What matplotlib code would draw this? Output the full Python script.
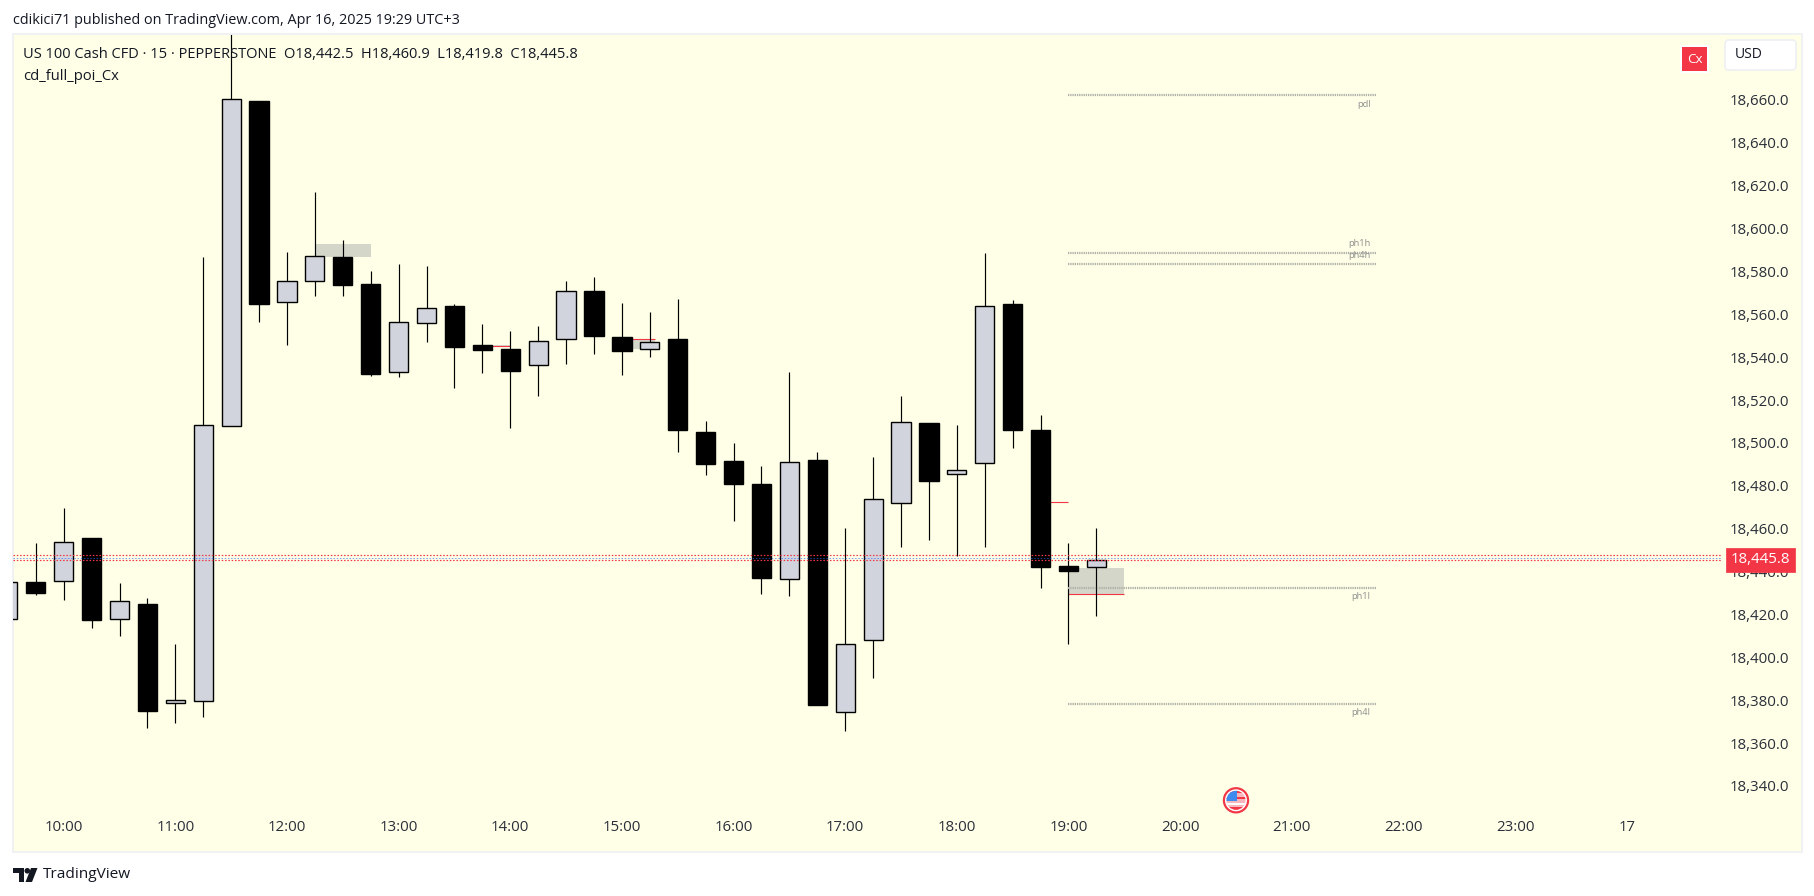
import matplotlib
matplotlib.use("Agg")
import matplotlib.pyplot as plt
from matplotlib.patches import Rectangle, Circle, FancyBboxPatch, Polygon
from matplotlib.transforms import ScaledTranslation

plt.rcParams['font.family'] = ['Open Sans', 'DejaVu Sans']

# 15-minute bars starting at 09:30
start_hour = 9.5
bar_hours = 0.25
opens = [18418.1, 18435.3, 18435.8, 18455.9, 18418.1, 18425.2, 18378.9, 18379.8, 18508.1, 18659.8,
         18566.2, 18575.7, 18587.1, 18574.5, 18533.3, 18556.1, 18564.2, 18545.9, 18544.0, 18536.6,
         18548.7, 18571.2, 18549.8, 18544.0, 18548.8, 18505.5, 18491.9, 18481.2, 18436.7, 18492.4,
         18374.7, 18408.3, 18472.2, 18509.7, 18486.0, 18490.8, 18565.2, 18506.4, 18443.0, 18442.5]
highs = [18435.3, 18453.7, 18470.0, 18455.9, 18435.0, 18428.0, 18406.6, 18587.1, 18700.0, 18659.8,
         18589.4, 18617.4, 18595.0, 18580.6, 18583.8, 18582.9, 18565.2, 18555.8, 18552.6, 18554.9,
         18575.9, 18577.8, 18565.6, 18561.4, 18567.5, 18510.6, 18500.3, 18489.6, 18533.4, 18496.1,
         18460.7, 18493.8, 18522.3, 18509.7, 18508.7, 18588.9, 18567.0, 18513.4, 18453.7, 18460.9]
lows = [18418.1, 18429.6, 18427.3, 18414.2, 18410.5, 18367.6, 18369.9, 18372.7, 18508.1, 18556.9,
        18546.2, 18569.0, 18569.0, 18531.7, 18531.3, 18547.6, 18526.1, 18533.1, 18507.5, 18522.4,
        18537.3, 18542.0, 18532.0, 18540.6, 18496.3, 18485.6, 18464.1, 18430.1, 18429.1, 18378.3,
        18366.2, 18390.9, 18452.0, 18455.1, 18447.8, 18452.0, 18498.2, 18432.9, 18406.7, 18419.8]
closes = [18435.3, 18430.5, 18454.0, 18417.9, 18426.5, 18375.5, 18380.3, 18508.6, 18660.6, 18565.3,
          18575.7, 18587.4, 18574.0, 18532.7, 18556.6, 18563.1, 18545.3, 18543.9, 18534.1, 18547.8,
          18571.1, 18550.4, 18543.4, 18547.3, 18506.5, 18490.7, 18481.4, 18437.5, 18491.3, 18378.3,
          18406.4, 18474.1, 18510.0, 18482.8, 18487.6, 18564.1, 18506.5, 18442.7, 18440.8, 18445.8]

price_ticks = list(range(18340, 18661, 20))
time_ticks = list(range(10, 25))
time_labels = [f"{h}:00" for h in range(10, 24)] + ["17"]

level_names = ["pdl", "ph1h", "ph4h", "ph1l", "ph4l"]
level_prices = [18662.6, 18589.0, 18583.8, 18432.9, 18378.8]
level_label_dy = [-9, 9, 9, -9, -9]
level_start, level_end = 19.0, 21.75

# zones: start hour, end hour, low price, high price
zone_starts = [12.25, 15.0, 13.75, 19.0]
zone_ends = [12.75, 15.3, 14.0, 19.5]
zone_lows = [18587.3, 18544.0, 18545.2, 18430.0]
zone_highs = [18593.4, 18549.0, 18546.0, 18442.2]
# red mitigation marks: start hour, end hour, price
red_starts = [13.75, 15.0, 18.75, 19.0]
red_ends = [14.0, 15.3, 19.0, 19.5]
red_prices = [18545.4, 18549.0, 18472.6, 18430.0]

last_price = 18445.8
dotted_red = [18445.8, 18447.9]
dotted_blue = [18446.8]

BG = "#FEFFE6"
UP = "#D1D4DC"
DOWN = "#000000"
RED = "#F23645"
BOX = "#D4D6C9"
INK = "#2A2E39"
FW, FH = 1814, 896
L, R, T, B = 13.0, 1802.0, 34.5, 851.7

fig = plt.figure(figsize=(FW / 100, FH / 100), dpi=100, facecolor="white")

ax = fig.add_axes([L / FW, 1 - B / FH, (R - L) / FW, (B - T) / FH], facecolor=BG)
ax.set_xlim(9.546, 25.57)
ax.set_ylim(18309.7, 18690.9)
for s in ax.spines.values():
    s.set_color("#F0F1F3")
    s.set_linewidth(1.4)

ax.set_xticks(time_ticks)
ax.set_xticklabels(time_labels)
ax.set_yticks(price_ticks)
ax.set_yticklabels([f"{p:,.1f}" for p in price_ticks])
ax.yaxis.tick_right()
ax.tick_params(axis='x', length=0, pad=-23, labelsize=10.8, labelcolor=INK)
ax.tick_params(axis='y', length=0, pad=-9.5, labelsize=10.8, labelcolor=INK)
nudge = ScaledTranslation(0, -1.2 / 100, fig.dpi_scale_trans)
for lab in ax.get_yticklabels():
    lab.set_horizontalalignment('right')
    lab.set_verticalalignment('center')
    lab.set_transform(lab.get_transform() + nudge)

# zones
for x0, x1, y0, y1 in zip(zone_starts, zone_ends, zone_lows, zone_highs):
    ax.add_patch(Rectangle((x0, y0), x1 - x0, y1 - y0, facecolor=BOX, edgecolor="none", zorder=1))
ax.hlines(red_prices, red_starts, red_ends, color=RED, lw=0.8, zorder=1.5)

# candles
xs = [start_hour + i * bar_hours for i in range(len(opens))]
ax.vlines(xs, lows, highs, color="black", lw=0.85, zorder=2)
for x, o, c in zip(xs, opens, closes):
    up = c >= o
    ax.bar(x, abs(c - o), bottom=min(o, c), width=0.172, color=UP if up else DOWN,
           edgecolor="black", linewidth=1.0, zorder=3)

# levels
ax.hlines(level_prices, level_start, level_end, color="#B2B2AB", lw=1.6,
          linestyles=[(0, (0.6, 0.4))], zorder=4)
for name, p, dy in zip(level_names, level_prices, level_label_dy):
    ax.annotate(name, xy=(level_end, p), xytext=(-3.6, dy * 0.72), textcoords="offset points",
                ha="right", va="center", fontsize=6.7, color="#8F8F8F", zorder=4)

# last-price dotted lines
trans = ax.get_yaxis_transform()
ax.hlines(dotted_red, 0, 0.955, color=RED, lw=0.85, linestyles=[(0, (1.3, 1.5))], transform=trans, zorder=5)
ax.hlines(dotted_blue, 0, 0.955, color="#2962FF", lw=0.72, alpha=0.6,
          linestyles=[(0, (1.5, 1.7))], transform=trans, zorder=5)
ax.text(0.9933, last_price, f"{last_price:,.1f}", transform=trans, ha="right", va="center",
        fontsize=10.8, color="white", zorder=10,
        bbox=dict(boxstyle="square,pad=0.3", facecolor=RED, edgecolor=RED, linewidth=0.5))

# chrome in pixel coordinates
px = fig.add_axes([0, 0, 1, 1], facecolor="none", zorder=5)
px.set_xlim(0, FW)
px.set_ylim(FH, 0)
px.axis("off")

px.text(13, 20, "cdikici71 published on TradingView.com, Apr 16, 2025 19:29 UTC+3",
        fontsize=10.4, color="#131722", va="center")
px.text(23, 54, "US 100 Cash CFD · 15 · PEPPERSTONE  O18,442.5  H18,460.9  L18,419.8  C18,445.8",
        fontsize=10.5, color="#131722", va="center")
px.text(23, 76, "cd_full_poi_Cx", fontsize=10.6, color="#131722", va="center")

px.add_patch(Rectangle((1680, 45), 29, 28, facecolor="white", edgecolor="none"))
px.add_patch(Rectangle((1682, 47), 25, 24, facecolor=RED, edgecolor="none"))
px.text(1694.5, 59.5, "Cx", color="white", fontsize=9.6, ha="center", va="center")
px.add_patch(FancyBboxPatch((1725, 40), 71, 30, boxstyle="round,pad=0,rounding_size=4",
                            facecolor="white", edgecolor="#EEF0F3", linewidth=1.2))
px.text(1735, 54.5, "USD", color="#131722", fontsize=10, va="center")

# flag icon
cx, cy = 1236, 800.3
px.add_patch(Circle((cx, cy), 13.2, facecolor=RED, edgecolor="none"))
px.add_patch(Circle((cx, cy), 11, facecolor="white", edgecolor="none"))
px.add_patch(Circle((cx, cy), 9.5, facecolor="#F7B7BC", edgecolor="none"))
flag = Circle((cx, cy), 9.5, transform=px.transData)
for k, yy in enumerate([cy - 9.5, cy - 3.5, cy + 2.5, cy + 7]):
    r = Rectangle((cx - 10, yy), 20, 2.6, facecolor=RED if k != 2 else "white", edgecolor="none")
    px.add_patch(r)
    r.set_clip_path(flag)
canton = Rectangle((cx - 10, cy - 10), 10.5, 11, facecolor="#3D8BEF", edgecolor="none")
px.add_patch(canton)
canton.set_clip_path(flag)

# TradingView logo
px.add_patch(Polygon([(13, 868), (24, 868), (24, 882), (18.5, 882), (18.5, 873), (13, 873)],
                     facecolor="#131722", edgecolor="none"))
px.add_patch(Circle((27.3, 870.8), 2.8, facecolor="#131722", edgecolor="none"))
px.add_patch(Polygon([(31, 868), (37.5, 868), (32, 882), (25.5, 882)], facecolor="#131722", edgecolor="none"))
px.text(43, 875, "TradingView", fontsize=11.1, color="#131722", va="center")

fig.savefig("out.png", dpi=100, facecolor="white")
